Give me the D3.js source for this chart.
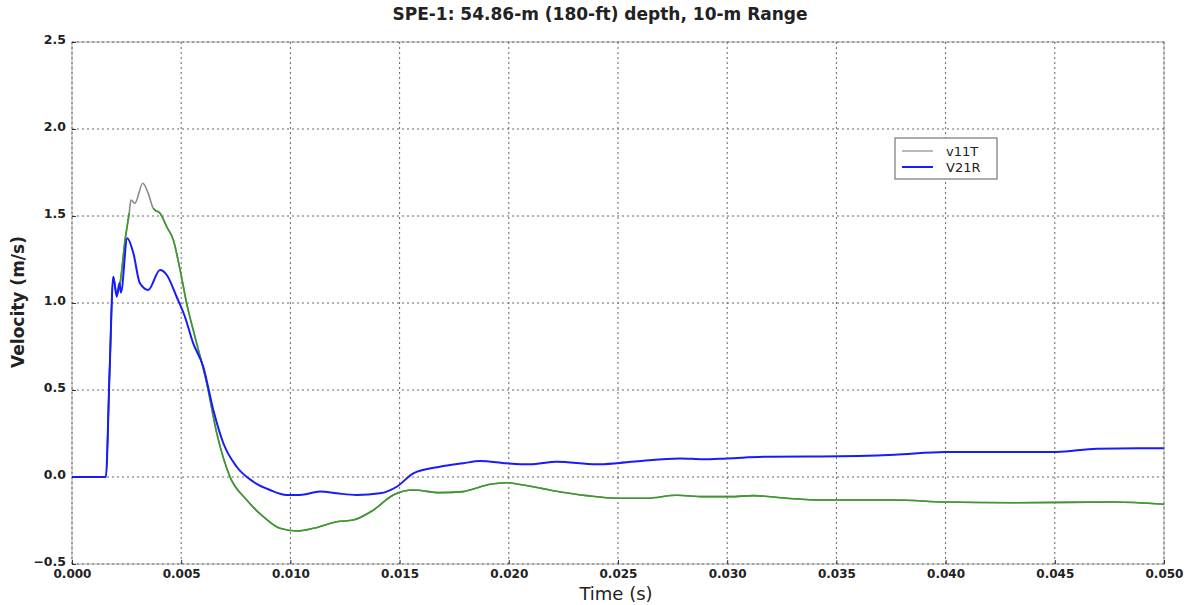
<!DOCTYPE html>
<html>
<head>
<meta charset="utf-8">
<script src="https://cdn.jsdelivr.net/npm/d3@7"></script>
<style>
  body { margin: 0; background: #fff; }
  svg { display: block; }
  text { font-family: "DejaVu Sans", sans-serif; }
</style>
</head>
<body>
<svg id="chart" width="1189" height="605"></svg>
<script>
// ---- data ----
const chartTitle = "SPE-1: 54.86-m (180-ft) depth, 10-m Range";
const xLabel = "Time (s)";
const yLabel = "Velocity (m/s)";
const xTicks = [0, 0.005, 0.01, 0.015, 0.02, 0.025, 0.03, 0.035, 0.04, 0.045, 0.05];
const yTicks = [-0.5, 0.0, 0.5, 1.0, 1.5, 2.0, 2.5];
const legendNames = ["v11T", "V21R"];

// V21R (blue)
const v21rT = [0, 0.00155, 0.00172, 0.00189, 0.00205, 0.00217, 0.00224, 0.00253, 0.00281, 0.00311,
  0.00349, 0.00403, 0.00434, 0.00479, 0.00517, 0.00555, 0.00601, 0.00647, 0.00693, 0.00754,
  0.0083, 0.00907, 0.00983, 0.01044, 0.01136, 0.01212, 0.01304, 0.0141, 0.01487, 0.01563,
  0.01685, 0.01792, 0.01868, 0.0199, 0.02097, 0.02219, 0.02402, 0.02494, 0.02616, 0.02784,
  0.02891, 0.02998, 0.03196, 0.0343, 0.03766, 0.03997, 0.04231, 0.04508, 0.04693, 0.05];
const v21rV = [0, 0, 0.6, 1.151, 1.036, 1.115, 1.06, 1.372, 1.286, 1.113,
  1.075, 1.19, 1.161, 1.036, 0.921, 0.768, 0.634, 0.385, 0.194, 0.059,
  -0.027, -0.075, -0.103, -0.103, -0.084, -0.094, -0.103, -0.094, -0.056, 0.021,
  0.059, 0.079, 0.092, 0.079, 0.073, 0.088, 0.073, 0.079, 0.094, 0.107,
  0.102, 0.107, 0.117, 0.118, 0.128, 0.144, 0.144, 0.144, 0.163, 0.165];

// v11T (gray)
const v11tT = [0, 0.00155, 0.00172, 0.00189, 0.00205, 0.0022, 0.00243, 0.00262, 0.0027, 0.00288,
  0.00324, 0.00349, 0.00372, 0.0038, 0.00403, 0.00434, 0.00464, 0.00495, 0.00525, 0.00563,
  0.00617, 0.00663, 0.00723, 0.008, 0.00876, 0.00952, 0.01029, 0.01105, 0.01212, 0.01288,
  0.0138, 0.01471, 0.01563, 0.01685, 0.01792, 0.01822, 0.01914, 0.0199, 0.02067, 0.02204,
  0.02357, 0.02494, 0.02631, 0.02769, 0.02891, 0.03013, 0.0312, 0.03272, 0.03425, 0.03766,
  0.03997, 0.04307, 0.04771, 0.05];
const v11tV = [0, 0, 0.6, 1.15, 1.05, 1.113, 1.362, 1.516, 1.592, 1.573,
  1.688, 1.63, 1.544, 1.534, 1.516, 1.438, 1.362, 1.19, 0.998, 0.806,
  0.539, 0.251, 0.002, -0.132, -0.228, -0.295, -0.31, -0.295, -0.257, -0.247,
  -0.19, -0.103, -0.075, -0.09, -0.084, -0.075, -0.042, -0.033, -0.046, -0.079,
  -0.107, -0.122, -0.122, -0.105, -0.113, -0.113, -0.107, -0.122, -0.132, -0.132,
  -0.144, -0.148, -0.144, -0.157];

// third (green) trace overlaying v11T, absent around the peak
const greenT = v11tT;
const greenV = [0, 0, 0.6, 1.15, 1.05, 1.113, 1.362, 1.516, null, null,
  null, null, 1.544, 1.534, 1.516, 1.438, 1.362, 1.19, 0.998, 0.806,
  0.539, 0.251, 0.002, -0.132, -0.228, -0.295, -0.31, -0.295, -0.257, -0.247,
  -0.19, -0.103, -0.075, -0.09, -0.084, -0.075, -0.042, -0.033, -0.046, -0.079,
  -0.107, -0.122, -0.122, -0.105, -0.113, -0.113, -0.107, -0.122, -0.132, -0.132,
  -0.144, -0.148, -0.144, -0.157];

// ---- drawing ----
const svg = d3.select("#chart");
const L = 72, R = 1164, T = 42, B = 564;
const x = d3.scaleLinear().domain([0, 0.05]).range([L, R]);
const y = d3.scaleLinear().domain([-0.5, 2.5]).range([B, T]);

// frame
svg.append("rect").attr("x", L).attr("y", T).attr("width", R - L).attr("height", B - T)
  .attr("fill", "none").attr("stroke", "#aaa").attr("stroke-width", 1);

// grid
const grid = svg.append("g");
grid.selectAll(".gx").data(xTicks).join("line")
  .attr("x1", d => x(d)).attr("x2", d => x(d)).attr("y1", T).attr("y2", B)
  .attr("stroke", "#666").attr("stroke-width", 1).attr("stroke-dasharray", "2,3");
grid.selectAll(".gy").data(yTicks).join("line")
  .attr("x1", L).attr("x2", R).attr("y1", d => y(d)).attr("y2", d => y(d))
  .attr("stroke", "#666").attr("stroke-width", 1).attr("stroke-dasharray", "2,3");

// axes
const xAxis = d3.axisBottom(x).tickValues(xTicks).tickFormat(d3.format(".3f")).tickSizeInner(-4).tickSizeOuter(0).tickPadding(5);
const yAxis = d3.axisLeft(y).tickValues(yTicks).tickFormat(d3.format(".1f")).tickSizeInner(-4).tickSizeOuter(0).tickPadding(6);
const gx = svg.append("g").attr("transform", `translate(0,${B})`).call(xAxis);
const gy = svg.append("g").attr("transform", `translate(${L},0)`).call(yAxis);
[gx, gy].forEach(g => {
  g.select(".domain").remove();
  g.selectAll(".tick line").attr("stroke", "#333");
  g.selectAll(".tick text").attr("fill", "#222").style("font-size", "12px").style("font-weight", "bold");
});
gy.selectAll(".tick text").attr("dy", "0.15em").style("font-size", "12.5px");

// lines
const line = d3.line().defined(d => d[1] !== null).curve(d3.curveMonotoneX)
  .x(d => x(d[0])).y(d => y(d[1]));
const grayData = v11tT.map((t, i) => [t, v11tV[i]]);
const greenData = greenT.map((t, i) => [t, greenV[i]]);
const blueData = v21rT.map((t, i) => [t, v21rV[i]]);
svg.append("path").datum(grayData).attr("d", line).attr("fill", "none")
  .attr("stroke", "#8a8a8a").attr("stroke-width", 1.6);
svg.append("path").datum(greenData).attr("d", line).attr("fill", "none")
  .attr("stroke", "#3a9a2a").attr("stroke-width", 1.6);
svg.append("path").datum(blueData).attr("d", line).attr("fill", "none")
  .attr("stroke", "#1a1aff").attr("stroke-width", 2);

// title & axis labels
svg.append("text").attr("x", 600).attr("y", 20).attr("text-anchor", "middle")
  .style("font-size", "17px").style("font-weight", "bold").attr("fill", "#222").text(chartTitle);
svg.append("text").attr("x", 616).attr("y", 600).attr("text-anchor", "middle")
  .style("font-size", "18px").attr("fill", "#222").text(xLabel);
svg.append("text").attr("transform", "translate(24,302) rotate(-90)").attr("text-anchor", "middle")
  .style("font-size", "17px").style("font-weight", "bold").attr("fill", "#222").text(yLabel);

// legend
const lg = svg.append("g");
lg.append("rect").attr("x", 895).attr("y", 138).attr("width", 102).attr("height", 41)
  .attr("fill", "#fff").attr("stroke", "#777").attr("stroke-width", 1.2);
const legColors = ["#8a8a8a", "#1a1aff"];
legendNames.forEach((n, i) => {
  const yy = 151 + i * 16;
  lg.append("line").attr("x1", 902).attr("x2", 933).attr("y1", yy).attr("y2", yy)
    .attr("stroke", legColors[i]).attr("stroke-width", i ? 2 : 1.2);
  lg.append("text").attr("x", 946).attr("y", yy + 5).style("font-size", "13px")
    .attr("fill", "#222").text(n);
});
</script>
</body>
</html>
